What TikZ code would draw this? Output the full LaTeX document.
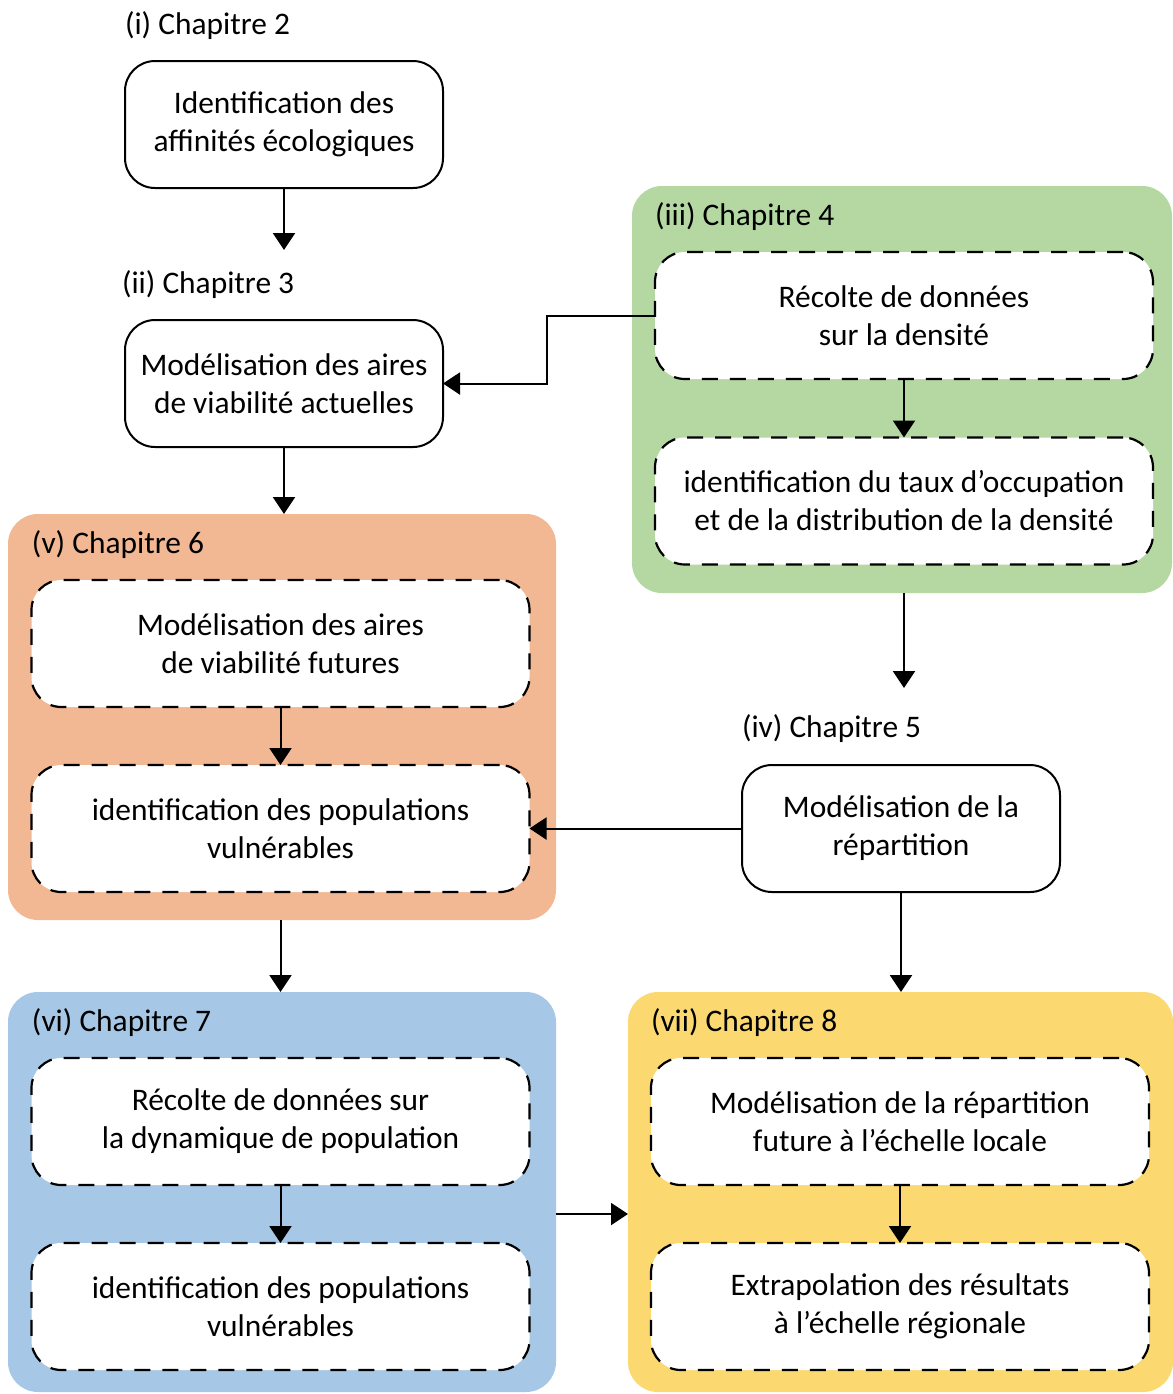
\documentclass[tikz,border=0pt]{standalone}
\usepackage{fontspec}
\setmainfont{Carlito}
\usetikzlibrary{arrows.meta}
\definecolor{cgreen}{HTML}{B5D8A3}
\definecolor{corange}{HTML}{F1B893}
\definecolor{cblue}{HTML}{A6C7E5}
\definecolor{cyellow}{HTML}{FBD970}
\begin{document}
\begin{tikzpicture}[x=0.5pt,y=-0.5pt,
 every node/.style={font=\fontsize{15.7pt}{19pt}\selectfont, outer sep=0pt},
 solidbox/.style={draw, line width=1pt, rounded corners=15pt, minimum width=159pt, minimum height=63.5pt, align=center, fill=white},
 dashbox/.style={draw, line width=1.1pt, dash pattern=on 8pt off 6pt, rounded corners=15pt, minimum width=249pt, minimum height=63.5pt, align=center, fill=white},
 panel/.style={rounded corners=15pt, inner sep=0pt},
 lbl/.style={anchor=base west, inner sep=0pt},
 arr/.style={line width=1pt, -{Triangle[length=8.5pt,width=11pt]}}
]
\useasboundingbox[fill=white] (0,0) rectangle (1173,1394);

% panels
\node[panel, fill=cgreen, minimum width=270pt, minimum height=203.5pt] (p4) at (902,389.5) {};
\node[panel, fill=corange, minimum width=274pt, minimum height=203pt] (p6) at (282,717) {};
\node[panel, fill=cblue, minimum width=274pt, minimum height=200pt] (p7) at (282,1192) {};
\node[panel, fill=cyellow, minimum width=272.5pt, minimum height=200pt] (p8) at (900.5,1192) {};

% labels
\node[lbl] (l2) at (125,34) {(i) Chapitre 2};
\node[lbl] (l3) at (122,293) {(ii) Chapitre 3};
\node[lbl] (l4) at (655,225) {(iii) Chapitre 4};
\node[lbl] (l5) at (742,737) {(iv) Chapitre 5};
\node[lbl] (l6) at (32,553) {(v) Chapitre 6};
\node[lbl] (l7) at (32,1031) {(vi) Chapitre 7};
\node[lbl] (l8) at (651,1031) {(vii) Chapitre 8};

% solid boxes
\node[solidbox] (b1) at (284,124.5) {Identification des\\affinités écologiques};
\node[solidbox] (b2) at (284,383.5) {Modélisation des aires\\de viabilité actuelles};
\node[solidbox] (b5) at (901,828.5) {Modélisation de la\\répartition};

% dashed boxes
\node[dashbox] (a4) at (904,315.5) {Récolte de données\\sur la densité};
\node[dashbox] (b4) at (904,501) {identification du taux d’occupation\\et de la distribution de la densité};
\node[dashbox] (a6) at (280.5,643.5) {Modélisation des aires\\de viabilité futures};
\node[dashbox] (b6) at (280.5,828.5) {identification des populations\\vulnérables};
\node[dashbox] (a7) at (280.5,1121.5) {Récolte de données sur\\la dynamique de population};
\node[dashbox] (b7) at (280.5,1306.5) {identification des populations\\vulnérables};
\node[dashbox] (a8) at (900,1121.5) {Modélisation de la répartition\\future à l’échelle locale};
\node[dashbox] (b8) at (900,1306.5) {Extrapolation des résultats\\à l’échelle régionale};

% free ends
\coordinate (e1) at (284,250);
\coordinate (e4) at (904,688);

% connectors
\draw[arr] (b1.south) -- (e1);
\draw[arr] (b2.south) -- (b2.south |- p6.north);
\draw[arr] (a4.west) -- ++(-108,0) |- (b2.east);
\draw[arr] (a4.south) -- (b4.north);
\draw[arr] (p4.south -| e4) -- (e4);
\draw[arr] (b5.west) -- (b6.east);
\draw[arr] (b5.south) -- (b5.south |- p8.north);
\draw[arr] (a6.south) -- (a6.south |- b6.north);
\draw[arr] (p6.south -| b6.south) -- (b6.south |- p7.north);
\draw[arr] (a7.south) -- (b7.north);
\draw[arr] (a8.south) -- (b8.north);
\draw[arr] ([yshift=-11pt]p7.east) -- ([yshift=-11pt]p8.west);
\end{tikzpicture}
\end{document}
